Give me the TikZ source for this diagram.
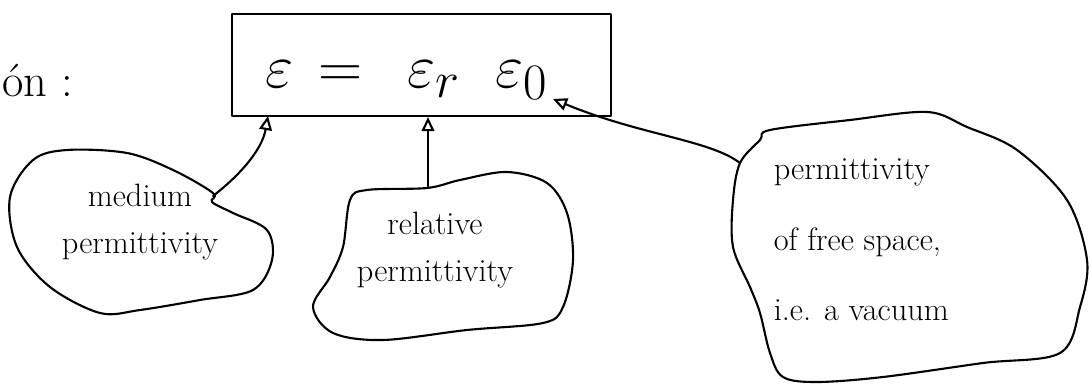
\documentclass[tikz,border=0pt]{standalone}
\usepackage{graphicx}
\usetikzlibrary{arrows.meta}
\newcommand{\bigsym}[1]{\scalebox{1.75}{$#1$}}
\begin{document}
\begin{tikzpicture}[
  x=0.025cm, y=-0.025cm,
  line width=1.5pt, line cap=round, line join=round,
  blob/.style={draw, smooth cycle, tension=0.55},
  sym/.style={font=\fontsize{24.88}{30}\selectfont, anchor=base, inner sep=0pt},
  lbl/.style={font=\fontsize{23}{34}\selectfont, align=center},
  arr/.style={-{Triangle[open, length=10pt, width=9pt]}}
]
\useasboundingbox (0,0) rectangle (1091,386);
\node[anchor=base west, font=\fontsize{33}{36}\selectfont, inner sep=0pt] (cap) at (1,97) {ón :};
\node[draw, minimum width=9.475cm, minimum height=2.55cm, inner sep=0pt] (box) at (421.5,65) {};
\node[sym] (eps) at (280,88) {\bigsym{\varepsilon}};
\node[sym] (eq) at (341,88) {\bigsym{=}};
\node[sym] (epsr) at (434,88) {\bigsym{\varepsilon_r}};
\node[sym] (epso) at (522,88) {\bigsym{\varepsilon_0}};
% callouts
\draw[blob] plot coordinates {(10,197) (33,160) (67,150) (127,153) (173,170) (213,193)
  (212,202) (233,213) (267,230) (272,260) (253,290) (200,300) (140,310) (100,313) (50,287) (17,247)};
\draw[blob] plot coordinates {(350,200) (367,190) (427,188) (460,180) (507,172) (547,183)
  (567,213) (573,260) (563,307) (543,323) (467,330) (383,340) (333,333) (313,307) (330,277) (343,247)};
\draw[blob] plot coordinates {(740,163) (760,140) (770,130) (850,120) (927,112) (967,127)
  (1017,150) (1067,200) (1087,260) (1080,307) (1060,353) (983,363) (883,377) (817,382)
  (783,377) (770,353) (760,313) (750,287) (733,247) (733,200)};
\node[lbl] (med) at (140,222) {medium\\permittivity};
\node[lbl] (rel) at (435,250) {relative\\permittivity};
\node[lbl, font=\fontsize{23}{50}\selectfont, align=left, anchor=west] (free) at (768,240) {permittivity\\of free space,\\i.e. a vacuum};
% connectors
\coordinate (n1) at (213,196);
\coordinate (n2) at (428,188);
\coordinate (n3) at (740,163);
\coordinate (t1) at (268,116);
\coordinate (t3) at (553,99);
\draw[arr] (n1) .. controls (240,175) and (262,150) .. (t1);
\draw[arr] (n2) -- (n2 |- box.south);
\draw[arr] (n3) .. controls (710,140) and (640,135) .. (t3);
\end{tikzpicture}
\end{document}
